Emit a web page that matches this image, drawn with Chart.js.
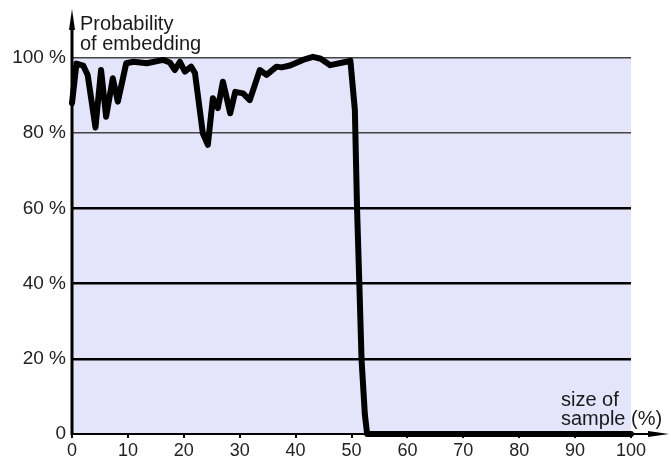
<!DOCTYPE html>
<html>
<head>
<meta charset="utf-8">
<script src="https://cdn.jsdelivr.net/npm/chart.js@4/dist/chart.umd.min.js"></script>
<style>
  html, body { margin: 0; padding: 0; background: #ffffff; }
  #wrap { width: 671px; height: 461px; position: relative; }
</style>
</head>
<body>
<div id="wrap"><canvas id="c" width="671" height="461"></canvas></div>
<script>
// Sample size (%) and probability of embedding (%)
const sampleSize = [0, 0.8, 2, 2.8, 4.2, 5.2, 6.1, 7.3, 8.2, 9.7, 11, 13.4, 16.3, 17.5, 18.4, 19.3, 20.2, 21.3, 22, 23.4, 24.3, 25.2, 26.1, 27, 28.3, 29.2, 30.6, 31.8, 33.6, 34.8, 36.6, 37.5, 39, 41.3, 43.1, 44.5, 46.2, 49.1, 49.8, 50.6, 51.0, 51.4, 51.8, 52.4, 52.8, 60, 70, 80, 90, 100];
const probability = [88, 98.5, 98, 95.5, 81.5, 96.8, 84.4, 94.6, 88.4, 98.6, 99, 98.6, 99.5, 98.8, 96.8, 99, 96.4, 97.7, 96, 80, 76.9, 89.3, 86.7, 93.7, 85.3, 91, 90.6, 88.8, 96.8, 95.5, 97.7, 97.5, 98, 99.5, 100.3, 99.8, 98.1, 99, 99.3, 86.2, 59.6, 40.1, 19.7, 5, 0, 0, 0, 0, 0, 0];
const yTicks = [0, 20, 40, 60, 80, 100];
const xTicks = [0, 10, 20, 30, 40, 50, 60, 70, 80, 90, 100];
const yTitleLines = ["Probability", "of embedding"];
const xTitleLines = ["size of", "sample (%)"];

const FONT = "'Liberation Sans', Arial, Helvetica, sans-serif";

const points = sampleSize.map((x, i) => ({ x: x, y: probability[i] }));

const decor = {
  id: 'decor',
  beforeDraw(chart) {
    const { ctx, chartArea: a } = chart;
    ctx.save();
    ctx.fillStyle = '#e4e4fa';
    ctx.fillRect(a.left, a.top, a.right - a.left, a.bottom - a.top);
    ctx.restore();
  },
  afterDatasetsDraw(chart) {
    const { ctx, chartArea: a } = chart;
    ctx.save();
    ctx.strokeStyle = '#000';
    ctx.fillStyle = '#000';
    // y axis
    ctx.lineWidth = 3;
    ctx.beginPath();
    ctx.moveTo(a.left, a.bottom + 1);
    ctx.lineTo(a.left, 26);
    ctx.stroke();
    ctx.beginPath();
    ctx.moveTo(a.left, 9);
    ctx.lineTo(a.left - 3, 30);
    ctx.lineTo(a.left + 3, 30);
    ctx.closePath();
    ctx.fill();
    // x axis
    ctx.lineWidth = 2;
    ctx.beginPath();
    ctx.moveTo(a.left, a.bottom);
    ctx.lineTo(655, a.bottom);
    ctx.stroke();
    ctx.beginPath();
    ctx.moveTo(669, a.bottom);
    ctx.lineTo(648, a.bottom - 3);
    ctx.lineTo(648, a.bottom + 3);
    ctx.closePath();
    ctx.fill();
    // titles
    ctx.fillStyle = '#1a1a1a';
    ctx.font = '20px ' + FONT;
    ctx.textAlign = 'left';
    ctx.textBaseline = 'alphabetic';
    ctx.fillText(yTitleLines[0], 80, 30);
    ctx.fillText(yTitleLines[1], 80, 50);
    ctx.fillText(xTitleLines[0], 561, 406);
    ctx.fillText(xTitleLines[1], 561, 425);
    ctx.restore();
  }
};

new Chart(document.getElementById('c'), {
  type: 'scatter',
  data: {
    datasets: [{
      data: points,
      showLine: true,
      borderColor: '#000',
      borderWidth: 6,
      pointRadius: 0,
      pointHoverRadius: 0,
      tension: 0,
      borderJoinStyle: 'round',
      borderCapStyle: 'round',
      clip: false
    }]
  },
  options: {
    responsive: false,
    animation: false,
    events: [],
    layout: { padding: { top: 58, right: 40, left: 0, bottom: 0 } },
    plugins: { legend: { display: false }, tooltip: { enabled: false }, title: { display: false } },
    scales: {
      x: {
        type: 'linear',
        min: 0, max: 100,
        afterBuildTicks(scale) { scale.ticks = xTicks.map(v => ({ value: v })); },
        afterFit(scale) { scale.height = 27; },
        border: { display: false },
        grid: { drawOnChartArea: false, drawTicks: true, tickLength: 4, color: '#000', lineWidth: 2 },
        ticks: { color: '#222', font: { family: FONT, size: 18 }, padding: 2, maxRotation: 0, autoSkip: false }
      },
      y: {
        type: 'linear',
        min: 0, max: 100,
        afterBuildTicks(scale) { scale.ticks = yTicks.map(v => ({ value: v })); },
        afterFit(scale) { scale.width = 72; },
        border: { display: false },
        grid: {
          drawTicks: false,
          color: ctx => {
            const v = ctx.tick ? ctx.tick.value : 0;
            if (v === 0) return 'rgba(0,0,0,0)';
            return (v >= 80) ? '#444' : '#000';
          },
          lineWidth: ctx => {
            const v = ctx.tick ? ctx.tick.value : 0;
            return (v >= 80) ? 1.5 : 2.5;
          }
        },
        ticks: {
          color: '#222',
          font: { family: FONT, size: 19 },
          padding: 6,
          callback: v => (v === 0 ? '0' : v + ' %')
        }
      }
    }
  },
  plugins: [decor]
});
</script>
</body>
</html>
